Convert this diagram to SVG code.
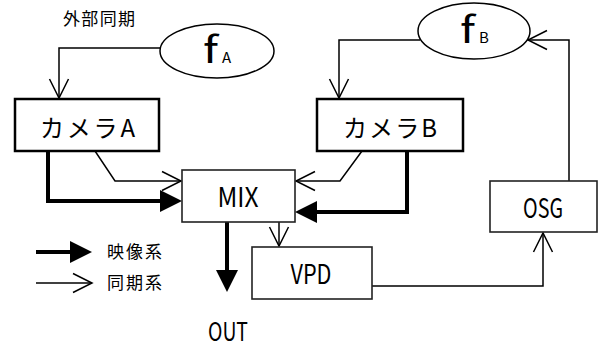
<svg xmlns="http://www.w3.org/2000/svg" width="601" height="347" viewBox="0 0 601 347">
  <style>
    .cam { fill: #fff; stroke: #000; stroke-width: 2.5; }
    .blk { fill: #fff; stroke: #222; stroke-width: 1.6; }
    .osc { fill: #fff; stroke: #000; stroke-width: 1.5; }
    .sync { fill: none; stroke: #000; stroke-width: 1.5; marker-end: url(#open); }
    .video { fill: none; stroke: #000; stroke-width: 4; marker-end: url(#solid); }
    .jp { font-family: "Noto Sans CJK JP", "DejaVu Sans", sans-serif; fill: #000; }
    .lbl { font-size: 27px; text-anchor: middle; }
    .cl { font-size: 24px; }
    .sm { font-size: 17px; }
    .f { font-size: 36px; }
    .sub { font-size: 15px; }
  </style>
  <defs>
    <!-- open V head for sync lines -->
    <marker id="open" markerUnits="userSpaceOnUse" viewBox="-21 -12 23 24" markerWidth="23" markerHeight="24" refX="0" refY="0" orient="auto">
      <path d="M-19,-9.5 L0,0 L-19,9.5" fill="none" stroke="#000" stroke-width="1.5"/>
    </marker>
    <!-- filled head for video lines, placed beyond the line end -->
    <marker id="solid" markerUnits="userSpaceOnUse" viewBox="0 -12 24 24" markerWidth="24" markerHeight="24" refX="0" refY="0" orient="auto">
      <path d="M0,-11 L22,0 L0,11 Z" fill="#000"/>
    </marker>
  </defs>

  <text class="jp sm" x="63" y="25" textLength="72" lengthAdjust="spacing">外部同期</text>

  <g id="connectors">
    <path class="sync" d="M161,48 H59 V98"/>
    <path class="sync" d="M420,40 H339 V98"/>
    <path class="sync" d="M569,181 V40 H528"/>
    <path class="sync" d="M372,286 H543 V233"/>
    <path class="sync" d="M279,222 V246"/>
    <path class="sync" d="M95,151 L115,181 H181"/>
    <path class="sync" d="M362,151 L340,181 H296"/>
    <path class="video" d="M48,151 V201 H160"/>
    <path class="video" d="M407,151 V212 H317"/>
    <path class="video" d="M227,222 V270"/>
  </g>

  <g id="fA">
    <ellipse class="osc" cx="217" cy="51" rx="57" ry="27"/>
    <text class="jp f" x="203" y="63" textLength="15" lengthAdjust="spacingAndGlyphs">f</text>
    <text class="jp sub" x="222" y="63">A</text>
  </g>

  <g id="fB">
    <ellipse class="osc" cx="474" cy="31" rx="56" ry="28"/>
    <text class="jp f" x="460" y="43" textLength="15" lengthAdjust="spacingAndGlyphs">f</text>
    <text class="jp sub" x="479" y="43">B</text>
  </g>

  <g id="cameraA">
    <rect class="cam" x="15" y="99" width="144" height="52"/>
    <text class="jp cl" x="40" y="137" textLength="95" lengthAdjust="spacing">カメラA</text>
  </g>

  <g id="cameraB">
    <rect class="cam" x="317" y="99" width="146" height="52"/>
    <text class="jp cl" x="343" y="137" textLength="94" lengthAdjust="spacing">カメラB</text>
  </g>

  <g id="mix">
    <rect class="blk" x="182" y="170" width="113" height="52"/>
    <text class="jp lbl" x="238" y="207" textLength="41" lengthAdjust="spacingAndGlyphs">MIX</text>
  </g>

  <g id="vpd">
    <rect class="blk" x="252" y="247" width="120" height="52"/>
    <text class="jp lbl" x="311" y="284" textLength="41" lengthAdjust="spacingAndGlyphs">VPD</text>
  </g>

  <g id="osg">
    <rect class="blk" x="490" y="181" width="107" height="51"/>
    <text class="jp lbl" x="543" y="218" textLength="40" lengthAdjust="spacingAndGlyphs">OSG</text>
  </g>

  <g id="out">
    <text class="jp" x="228" y="341" font-size="26" text-anchor="middle" textLength="40" lengthAdjust="spacingAndGlyphs">OUT</text>
  </g>

  <g id="legend">
    <path class="video" d="M36,252 H70"/>
    <path class="sync" d="M36,283 H92"/>
    <text class="jp sm" x="107" y="258" textLength="55" lengthAdjust="spacing">映像系</text>
    <text class="jp sm" x="107" y="289" textLength="55" lengthAdjust="spacing">同期系</text>
  </g>
</svg>
